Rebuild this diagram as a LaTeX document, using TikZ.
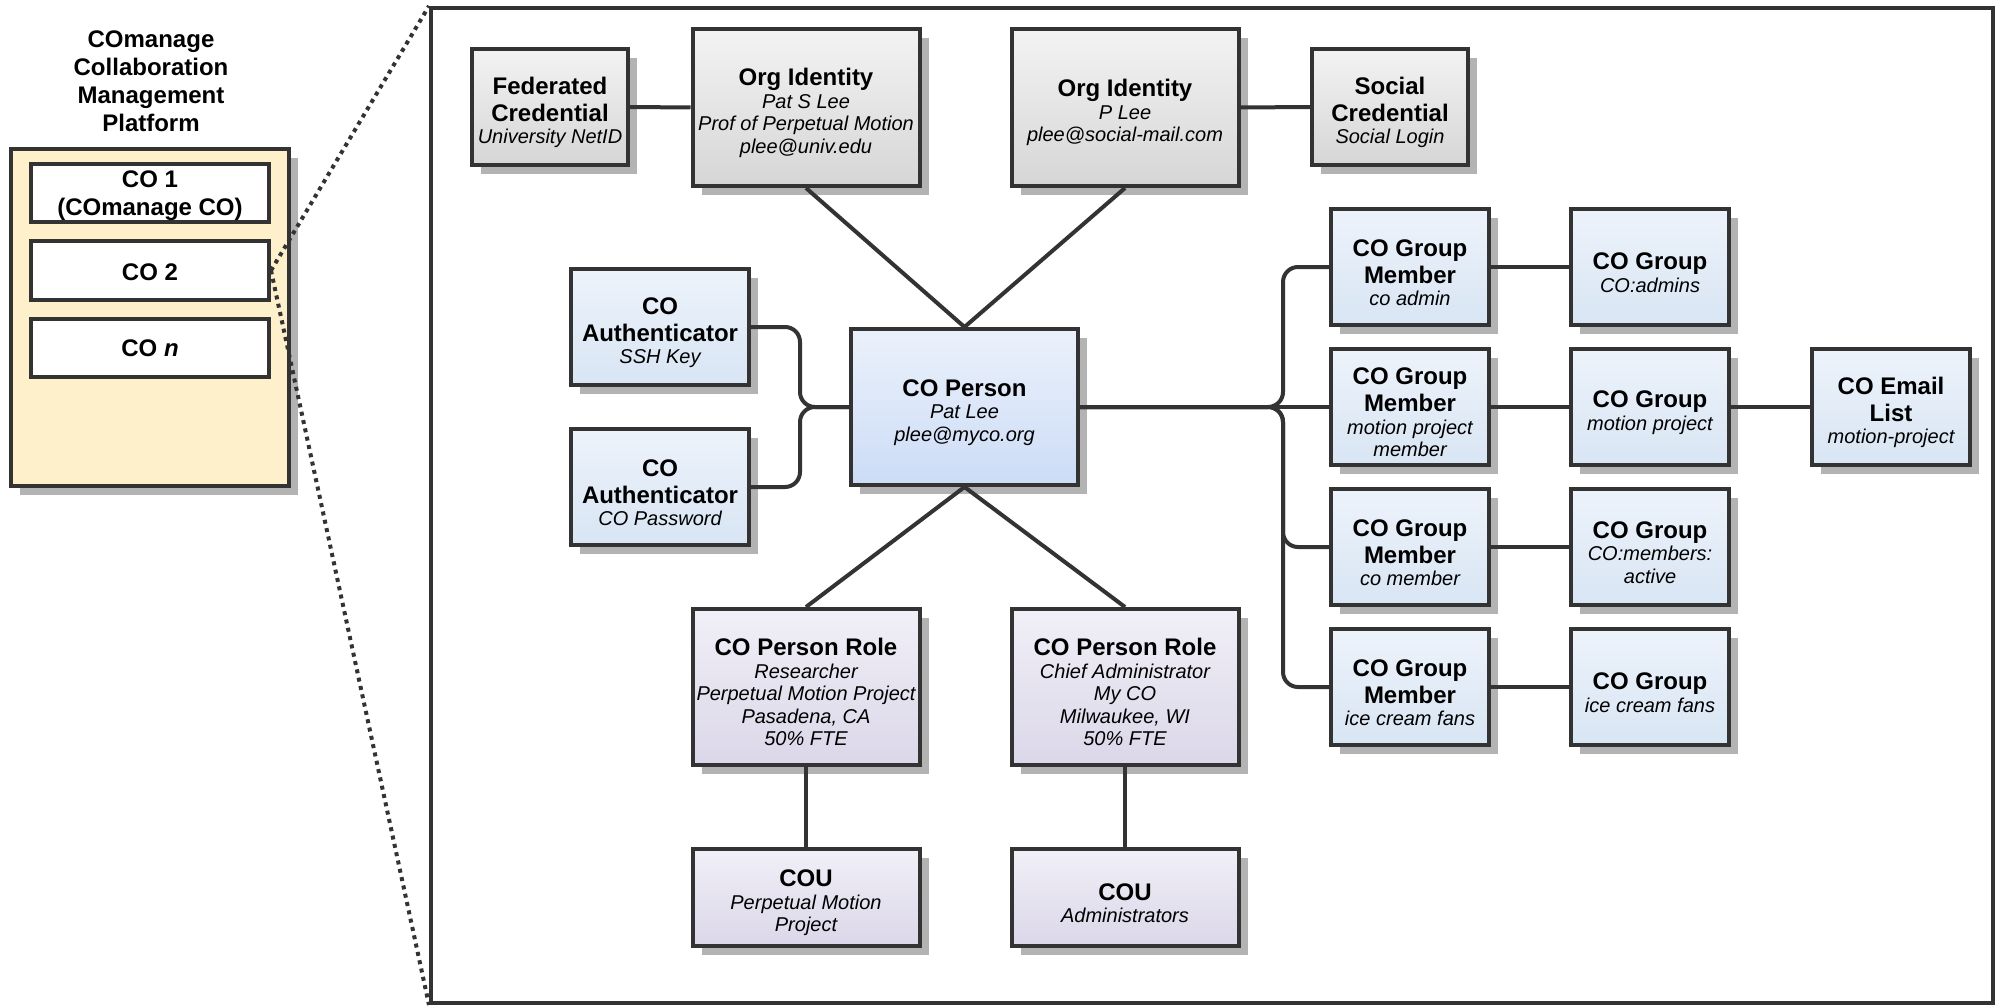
\documentclass[tikz,border=0pt]{standalone}
\usepackage{fontspec}
\setmainfont{Liberation Sans}
\usetikzlibrary{shadows}
\definecolor{bordc}{HTML}{333333}
\definecolor{shadc}{HTML}{B3B3B3}
\definecolor{grayT}{HTML}{F3F3F3}
\definecolor{grayB}{HTML}{D6D6D6}
\definecolor{blueT}{HTML}{EDF3FB}
\definecolor{blueB}{HTML}{D8E5F3}
\definecolor{persT}{HTML}{EBF1FB}
\definecolor{persB}{HTML}{CCDCF6}
\definecolor{purpT}{HTML}{F1EFF7}
\definecolor{purpB}{HTML}{DBD7E9}
\definecolor{yelw}{HTML}{FFF0CC}
\newcommand\ttl{\fontsize{24}{27}\selectfont\bfseries\upshape}
\newcommand\subf{\fontsize{20}{22.5}\selectfont\itshape}
% first title line with extra room on top, so the text block sits a little lower
\newcommand\ttlA[1]{{\ttl\rule{0pt}{28pt}#1}}
\tikzset{
  box/.style={draw=bordc, line width=4pt, inner sep=0pt, align=center,
    font=\subf, text=black,
    general shadow={fill=shadc, shadow xshift=9pt, shadow yshift=-9pt}},
  graybox/.style={box, top color=grayT, bottom color=grayB},
  bluebox/.style={box, top color=blueT, bottom color=blueB},
  persbox/.style={box, top color=persT, bottom color=persB},
  purpbox/.style={box, top color=purpT, bottom color=purpB},
  credsz/.style={minimum width=156pt, minimum height=116pt},
  bigsz/.style={minimum width=227pt, minimum height=157pt},
  authsz/.style={minimum width=178pt, minimum height=116pt},
  cousz/.style={minimum width=227pt, minimum height=97pt},
  grpsz/.style={minimum width=158pt, minimum height=116pt},
  cobox/.style={draw=bordc, line width=4pt, fill=white, inner sep=0pt, align=center,
    minimum width=238pt, font=\fontsize{24}{28}\selectfont\bfseries},
  conn/.style={draw=bordc, line width=4pt},
  dotline/.style={draw=bordc, line width=4pt, dash pattern=on 4pt off 4.5pt}
}
\begin{document}
\begin{tikzpicture}[x=1pt, y=-1pt]
\useasboundingbox (0,0) rectangle (2002,1006);

% left panel
\node[font=\fontsize{24}{28}\selectfont\bfseries, align=center, inner sep=0pt] (pltitle) at (151,81)
  {COmanage\\Collaboration\\Management\\Platform};
\node[draw=bordc, line width=4pt, fill=yelw, minimum width=278pt, minimum height=337pt,
  general shadow={fill=shadc, shadow xshift=9pt, shadow yshift=-9pt}] (platform) at (150,317.5) {};
\node[cobox, minimum height=58pt] (co1) at (150,193) {\rule{0pt}{22pt}CO 1\\(COmanage CO)};
\node[cobox, minimum height=59pt] (co2) at (150,270.5) {\rule{0pt}{20pt}CO 2};
\node[cobox, minimum height=58pt] (con) at (150,348) {CO \textit{n}};

% frame
\node[draw=bordc, line width=4pt, minimum width=1562pt, minimum height=995pt, inner sep=0pt] (frame) at (1212,505.5) {};
\draw[dotline] (co2.east) -- (frame.north west);
\draw[dotline] (co2.east) -- (frame.south west);

% top row
\node[graybox, credsz] (fed) at (550,107) {\ttlA{Federated}\\[4.5pt]{\ttl Credential}\\University NetID};
\node[graybox, bigsz] (org1) at (806,107.5) {\ttlA{Org Identity}\\Pat S Lee\\Prof of Perpetual Motion\\plee@univ.edu};
\node[graybox, bigsz] (org2) at (1125,107.5) {\ttlA{Org Identity}\\P Lee\\plee@social-mail.com};
\node[graybox, credsz] (social) at (1390,107) {\ttlA{Social}\\[4.5pt]{\ttl Credential}\\Social Login};

% authenticators and person
\node[bluebox, authsz] (auth1) at (660,327) {\ttlA{CO}\\[4.5pt]{\ttl Authenticator}\\SSH Key};
\node[bluebox, authsz] (auth2) at (660,487) {\ttlA{CO}\\[4.5pt]{\ttl Authenticator}\\CO Password};
\node[persbox, minimum width=227pt, minimum height=156pt] (person) at (964.5,407) {\ttlA{CO Person}\\Pat Lee\\plee@myco.org};

% roles and COUs
\node[purpbox, minimum width=227pt, minimum height=156pt] (role1) at (806,687) {\ttlA{CO Person Role}\\Researcher\\Perpetual Motion Project\\Pasadena, CA\\50\% FTE};
\node[purpbox, minimum width=227pt, minimum height=156pt] (role2) at (1125,687) {\ttlA{CO Person Role}\\Chief Administrator\\My CO\\Milwaukee, WI\\50\% FTE};
\node[purpbox, cousz] (cou1) at (806,897.5) {\ttlA{COU}\\Perpetual Motion\\Project};
\node[purpbox, cousz] (cou2) at (1125,897.5) {\ttlA{COU}\\Administrators};

% groups
\node[bluebox, grpsz] (gm1) at (1410,267) {\ttlA{CO Group}\\[4.5pt]{\ttl Member}\\co admin};
\node[bluebox, grpsz] (gm2) at (1410,407) {\ttlA{CO Group}\\[4.5pt]{\ttl Member}\\motion project\\member};
\node[bluebox, grpsz] (gm3) at (1410,547) {\ttlA{CO Group}\\[4.5pt]{\ttl Member}\\co member};
\node[bluebox, grpsz] (gm4) at (1410,687) {\ttlA{CO Group}\\[4.5pt]{\ttl Member}\\ice cream fans};
\node[bluebox, grpsz] (g1) at (1650,267) {\ttlA{CO Group}\\CO:admins};
\node[bluebox, grpsz] (g2) at (1650,407) {\ttlA{CO Group}\\motion project};
\node[bluebox, grpsz] (g3) at (1650,547) {\ttlA{CO Group}\\CO:members:\\active};
\node[bluebox, grpsz] (g4) at (1650,687) {\ttlA{CO Group}\\ice cream fans};
\node[bluebox, grpsz] (email) at (1891,407) {\ttlA{CO Email}\\[4.5pt]{\ttl List}\\motion-project};

% connectors
\draw[conn] (fed.east) -- (org1.west);
\draw[conn] (org2.east) -- (social.west);
\draw[conn] (org1.south) -- (person.north);
\draw[conn] (org2.south) -- (person.north);
\draw[conn] (person.south) -- (role1.north);
\draw[conn] (person.south) -- (role2.north);
\draw[conn] (role1.south) -- (cou1.north);
\draw[conn] (role2.south) -- (cou2.north);

\coordinate (jl) at (800,407);
\draw[conn, rounded corners=15pt] (auth1.east) -| (jl) -- (person.west);
\draw[conn, rounded corners=15pt] (auth2.east) -| (jl) -- (person.west);

\coordinate (jr) at (1283,407);
\draw[conn] (person.east) -- (gm2.west);
\draw[conn, rounded corners=15pt] (person.east) -- (jr) |- (gm1.west);
\draw[conn, rounded corners=15pt] (person.east) -- (jr) |- (gm3.west);
\draw[conn, rounded corners=15pt] (person.east) -- (jr) |- (gm4.west);

\draw[conn] (gm1.east) -- (g1.west);
\draw[conn] (gm2.east) -- (g2.west);
\draw[conn] (gm3.east) -- (g3.west);
\draw[conn] (gm4.east) -- (g4.west);
\draw[conn] (g2.east) -- (email.west);
\end{tikzpicture}
\end{document}
